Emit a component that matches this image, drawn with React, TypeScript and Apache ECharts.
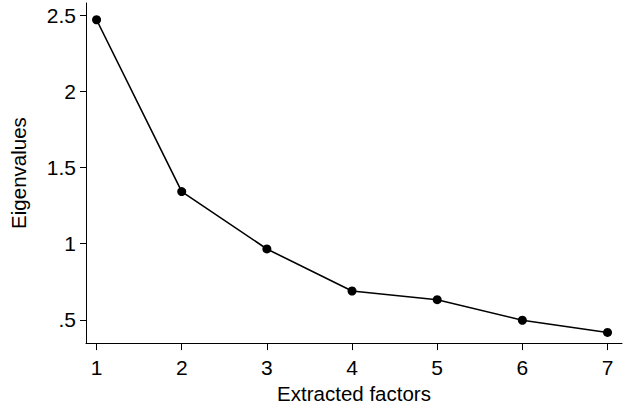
import React, { useEffect, useRef } from "react";
import * as echarts from "echarts";

const factors = [1, 2, 3, 4, 5, 6, 7];
const eigenvalues = [2.47, 1.342, 0.965, 0.689, 0.632, 0.497, 0.417];
const xTicks = [1, 2, 3, 4, 5, 6, 7];
const yTicks = [0.5, 1, 1.5, 2, 2.5];

export default function App() {
  const ref = useRef<HTMLDivElement>(null);
  useEffect(() => {
    if (!ref.current) return;
    const chart = echarts.init(ref.current, null, { renderer: "svg" });
    const font = "Arial, 'Liberation Sans', sans-serif";
    chart.setOption({
      animation: false,
      backgroundColor: "#ffffff",
      textStyle: { fontFamily: font },
      grid: { left: 82.7, top: 3, right: 2, bottom: 63.3, containLabel: false },
      xAxis: {
        type: "value",
        min: 0.876,
        max: 7.17,
        name: "Extracted factors",
        nameLocation: "middle",
        nameGap: 36,
        nameTextStyle: { fontSize: 20.5, color: "#000", fontFamily: font },
        axisLine: { show: true, lineStyle: { color: "#000", width: 1 } },
        axisTick: { show: true, length: 7, inside: false, customValues: xTicks, lineStyle: { color: "#000" } },
        axisLabel: { customValues: xTicks, fontSize: 21, color: "#000", margin: 14, fontFamily: font },
        splitLine: { show: false },
      },
      yAxis: {
        type: "value",
        min: 0.347,
        max: 2.58,
        name: "Eigenvalues",
        nameLocation: "middle",
        nameGap: 57,
        nameTextStyle: { fontSize: 20.5, color: "#000", fontFamily: font },
        axisLine: { show: true, lineStyle: { color: "#000", width: 1 } },
        axisTick: { show: true, length: 6, inside: false, customValues: yTicks, lineStyle: { color: "#000" } },
        axisLabel: {
          customValues: yTicks,
          fontSize: 21,
          color: "#000",
          margin: 10,
          fontFamily: font,
          formatter: (v: number) => String(v).replace(/^0\./, "."),
        },
        splitLine: { show: false },
      },
      series: [
        {
          type: "line",
          data: factors.map((f, i) => [f, eigenvalues[i]]),
          symbol: "circle",
          symbolSize: 9,
          itemStyle: { color: "#000" },
          lineStyle: { color: "#000", width: 1.6 },
        },
      ],
    });
    return () => chart.dispose();
  }, []);
  return <div ref={ref} style={{ width: 624, height: 409, position: "absolute", left: 0, top: 0 }} />;
}
